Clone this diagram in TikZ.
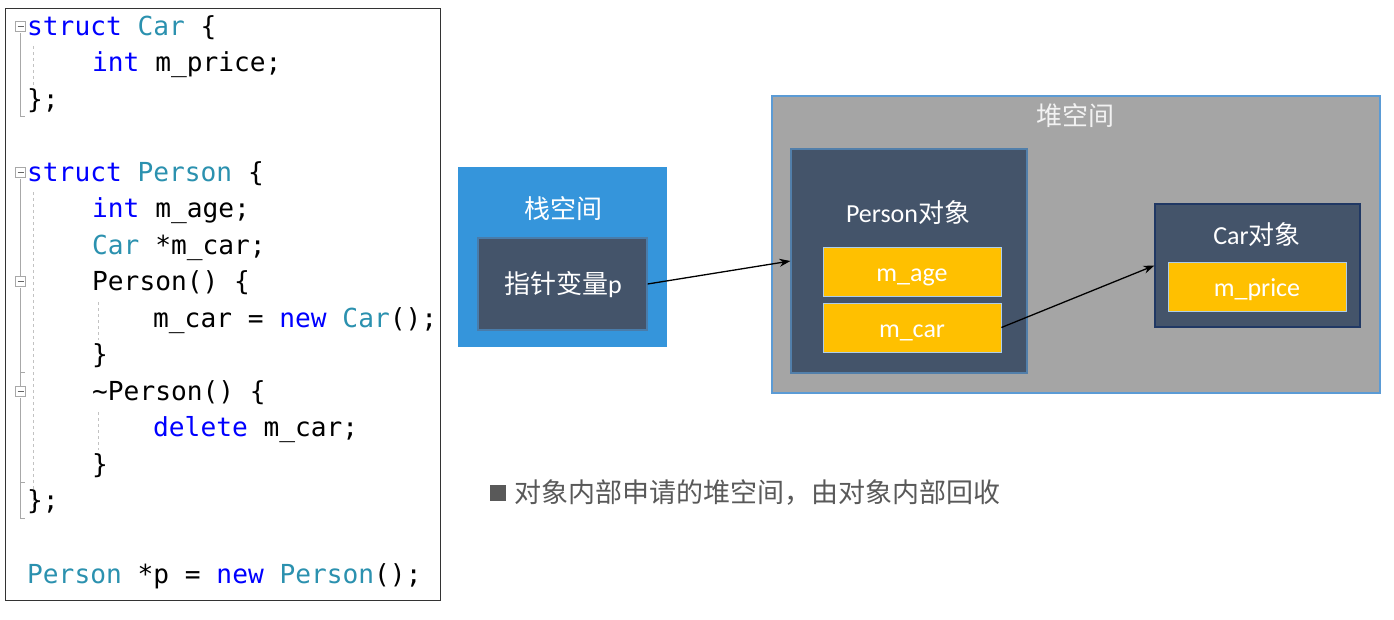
\documentclass[tikz,border=0pt]{standalone}
\usepackage{fontspec}
\setmainfont{Carlito}
\setmonofont{DejaVu Sans Mono}
\newfontfamily\cjk{Noto Sans CJK SC}
\usetikzlibrary{arrows.meta}

\definecolor{kwblue}{HTML}{0000FF}
\definecolor{tyteal}{HTML}{2B91AF}
\definecolor{slate}{HTML}{44546A}
\definecolor{stackblue}{HTML}{3595DB}
\definecolor{heapgray}{HTML}{A5A5A5}
\definecolor{heapline}{HTML}{5B9BD5}
\definecolor{carline}{HTML}{203864}
\definecolor{fieldyellow}{HTML}{FFC000}
\definecolor{foldgray}{HTML}{A8A8A8}
\definecolor{notegray}{HTML}{595959}

\newcommand{\kw}[1]{\textcolor{kwblue}{#1}}
\newcommand{\ty}[1]{\textcolor{tyteal}{#1}}

\tikzset{
  codeline/.style={anchor=base west, inner sep=0, font=\ttfamily\fontsize{26.2}{30}\selectfont},
  boxlabel/.style={text=white, inner sep=0, font=\fontsize{26}{30}\selectfont},
  objbox/.style={fill=slate, draw=#1, line width=1.2},
  fieldbox/.style={fill=fieldyellow, draw=heapline!50, line width=0.8, minimum width=178, minimum height=49,
    text=white, text height=21, text depth=1, font=\fontsize{26}{30}\selectfont},
  ptrarrow/.style={-{Stealth[length=11, width=8]}, line width=1.3},
  fold/.style={draw=foldgray, line width=1},
  guide/.style={draw=foldgray!70, line width=1, dash pattern=on 3 off 3},
}

\begin{document}
\begin{tikzpicture}[x=1pt, y=-1pt]
    \useasboundingbox (0,0) rectangle (1394,619);
    \fill[white] (0,0) rectangle (1394,619);

    % code panel
    \draw[line width=1, black!80] (5,8) rectangle (440,600);

    % fold markers and block lines
    \draw[fold] (20,33) -- (20,116) -- (25,116);
    \draw[fold] (20,179) -- (20,277);
    \draw[fold] (20,288) -- (20,387);
    \draw[fold] (20,398) -- (20,518) -- (25,518);
    \draw[fold] (20,372) -- (25,372);
    \draw[fold] (20,482) -- (25,482);
    \foreach \y in {27,173,282,392} {
        \draw[fold, fill=white] (15.5,\y-5.5) rectangle ++(10,10);
        \draw[draw=black!60, line width=1] (17.5,\y-0.5) -- ++(6,0);
    }
    \draw[guide] (33,46) -- (33,88);
    \draw[guide] (33,192) -- (33,515);
    \draw[guide] (98,302) -- (98,340);
    \draw[guide] (98,412) -- (98,450);

    % code lines
    \node[codeline] (c0)  at (27,35)    {\kw{struct} \ty{Car} \{};
    \node[codeline] (c1)  at (92,71.5)  {\kw{int} m\_price;};
    \node[codeline] (c2)  at (27,108)   {\};};
    \node[codeline] (c4)  at (27,181)   {\kw{struct} \ty{Person} \{};
    \node[codeline] (c5)  at (92,217.7) {\kw{int} m\_age;};
    \node[codeline] (c6)  at (92,254.2) {\ty{Car} *m\_car;};
    \node[codeline] (c7)  at (92,290.7) {Person() \{};
    \node[codeline] (c8)  at (153,327.3) {m\_car = \kw{new} \ty{Car}();};
    \node[codeline] (c9)  at (92,363.8) {\}};
    \node[codeline] (c10) at (92,400.3) {\textasciitilde Person() \{};
    \node[codeline] (c11) at (153,436.8) {\kw{delete} m\_car;};
    \node[codeline] (c12) at (92,473.4) {\}};
    \node[codeline] (c13) at (27,509.9) {\};};
    \node[codeline] (c15) at (27,583)   {\ty{Person} *p = \kw{new} \ty{Person}();};

    % stack space
    \node[fill=stackblue, minimum width=209, minimum height=180] (stack) at (562.5,257) {};
    \node[boxlabel] (stacktitle) at (563,209) {\cjk 栈空间};
    \node[objbox=heapline!80!black, minimum width=169, minimum height=92] (ptr) at (562.5,284) {};
    \node[boxlabel] (ptrlabel) at (563,285) {{\cjk 指针变量}p};

    % heap space
    \node[fill=heapgray, draw=heapline, line width=1.2, minimum width=608, minimum height=297] (heap) at (1076,244.5) {};
    \node[boxlabel, text=white!95!black] (heaptitle) at (1075,116) {\cjk 堆空间};

    % Person object
    \node[objbox=heapline!60!slate, minimum width=236, minimum height=224] (person) at (909,261) {};
    \node[boxlabel] (persontitle) at (908,213) {Person{\cjk 对象}};
    \node[fieldbox] (mage) at (912,271.5) {m\_age};
    \node[fieldbox] (mcar) at (912,327.5) {m\_car};

    % Car object
    \node[objbox=carline, minimum width=205, minimum height=123] (car) at (1257.5,265.5) {};
    \node[boxlabel] (cartitle) at (1257,235) {Car{\cjk 对象}};
    \node[fieldbox] (mprice) at (1257,286.5) {m\_price};

    % pointers
    \draw[ptrarrow] (ptr.east) -- (person.west);
    \draw[ptrarrow] (mcar.east) -- (car.west);

    % note
    \node[fill=notegray, inner sep=0, minimum size=16] (bullet) at (498,493) {};
    \node[anchor=west, inner sep=0, text=notegray, font=\cjk\fontsize{27}{30}\selectfont] (note) at (514,493)
        {对象内部申请的堆空间，由对象内部回收};
\end{tikzpicture}
\end{document}
